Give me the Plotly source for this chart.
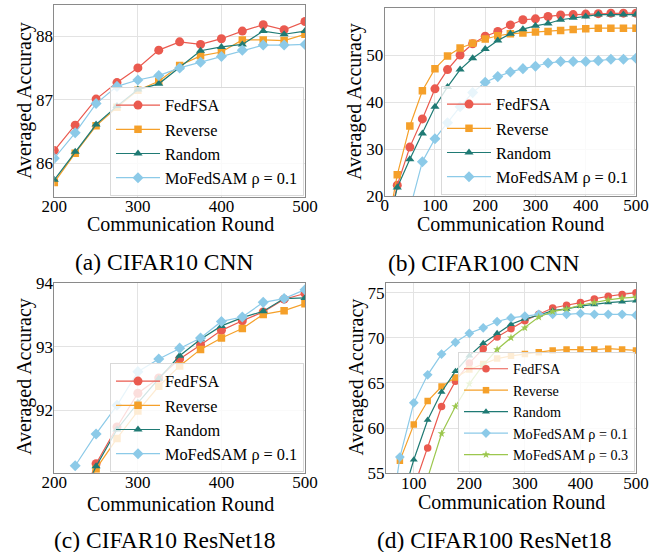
import plotly.graph_objects as go

FONT = "Liberation Serif"

# ---------------- data ----------------
# (a) CIFAR10 CNN
rounds_a = [200, 225, 250, 275, 300, 325, 350, 375, 400, 425, 450, 475, 500]
fedfsa_a = [86.20, 86.60, 87.01, 87.27, 87.50, 87.78, 87.91, 87.87, 87.96, 88.08, 88.18, 88.10, 88.23]
reverse_a = [85.70, 86.16, 86.59, 86.88, 87.15, 87.29, 87.54, 87.69, 87.75, 87.94, 87.94, 87.93, 88.03]
random_a = [85.74, 86.18, 86.61, 86.90, 87.16, 87.25, 87.51, 87.77, 87.83, 87.87, 88.08, 88.03, 88.08]
mofedsam_a = [86.08, 86.48, 86.94, 87.21, 87.31, 87.38, 87.50, 87.59, 87.68, 87.78, 87.86, 87.86, 87.87]

# (b) CIFAR100 CNN
rounds_b = [0, 25, 50, 75, 100, 125, 150, 175, 200, 225, 250, 275, 300, 325, 350, 375, 400, 425, 450, 475, 500]
fedfsa_b = [10.0, 22.3, 30.4, 36.4, 42.8, 46.9, 50.0, 52.4, 54.0, 55.0, 56.4, 57.5, 57.7, 58.2, 58.5, 58.6, 58.7, 58.8, 58.9, 58.9, 58.9]
reverse_b = [10.0, 24.5, 34.9, 42.4, 47.1, 49.8, 51.5, 52.5, 53.4, 54.1, 54.5, 54.7, 54.9, 55.0, 55.2, 55.4, 55.6, 55.7, 55.7, 55.7, 55.7]
random_b = [10.0, 21.8, 27.8, 33.3, 39.0, 43.2, 46.9, 49.3, 51.3, 53.1, 54.5, 55.5, 56.2, 56.7, 57.5, 57.9, 58.2, 58.6, 58.6, 58.6, 58.6]
rounds_b_mo = [50, 75, 100, 125, 150, 175, 200, 225, 250, 275, 300, 325, 350, 375, 400, 425, 450, 475, 500]
mofedsam_b = [17.2, 27.3, 32.2, 35.6, 39.0, 42.0, 44.2, 45.4, 46.4, 47.1, 47.6, 48.3, 48.6, 48.6, 48.6, 48.8, 49.1, 49.1, 49.3]

# (c) CIFAR10 ResNet18
rounds_c = [225, 250, 275, 300, 325, 350, 375, 400, 425, 450, 475, 500]
fedfsa_c = [90.40, 91.16, 91.74, 92.27, 92.51, 92.81, 93.03, 93.26, 93.41, 93.55, 93.75, 93.84]
reverse_c = [90.35, 91.08, 91.56, 91.99, 92.38, 92.70, 92.96, 93.14, 93.29, 93.51, 93.57, 93.68]
random_c = [90.40, 91.12, 91.70, 92.12, 92.50, 92.86, 93.12, 93.33, 93.46, 93.56, 93.76, 93.77]
mofedsam_c = [91.13, 91.63, 92.08, 92.61, 92.81, 92.98, 93.14, 93.40, 93.47, 93.70, 93.76, 93.90]

# (d) CIFAR100 ResNet18
rounds_d_fed = [100, 125, 150, 175, 200, 225, 250, 275, 300, 325, 350, 375, 400, 425, 450, 475, 500]
fedfsa_d = [53.4, 57.8, 62.4, 65.2, 67.2, 68.8, 70.1, 71.0, 71.9, 72.6, 73.3, 73.6, 73.9, 74.3, 74.6, 74.8, 75.0]
rounds_d_rev = [75, 100, 125, 150, 175, 200, 225, 250, 275, 300, 325, 350, 375, 400, 425, 450, 475, 500]
reverse_d = [56.4, 60.4, 63.0, 64.6, 65.6, 66.5, 67.1, 67.7, 68.0, 68.2, 68.4, 68.6, 68.7, 68.7, 68.7, 68.8, 68.7, 68.6]
rounds_d_rand = [75, 100, 125, 150, 175, 200, 225, 250, 275, 300, 325, 350, 375, 400, 425, 450, 475, 500]
random_d = [51.3, 56.5, 60.9, 64.0, 66.3, 68.0, 69.4, 70.5, 71.5, 72.1, 72.5, 73.0, 73.2, 73.5, 73.7, 73.9, 74.0, 74.1]
rounds_d_mo1 = [50, 75, 100, 125, 150, 175, 200, 225, 250, 275, 300, 325, 350, 375, 400, 425, 450, 475, 500]
mofedsam01_d = [46.0, 56.8, 62.8, 65.9, 68.2, 69.5, 70.5, 71.1, 71.8, 72.2, 72.4, 72.6, 72.6, 72.6, 72.7, 72.6, 72.6, 72.6, 72.5]
rounds_d_mo3 = [125, 150, 175, 200, 225, 250, 275, 300, 325, 350, 375, 400, 425, 450, 475, 500]
mofedsam03_d = [54.5, 59.4, 62.4, 64.9, 67.0, 68.7, 70.0, 71.1, 72.3, 72.9, 73.2, 73.6, 73.9, 74.2, 74.4, 74.5]

names = ["FedFSA", "Reverse", "Random", "MoFedSAM \u03c1 = 0.1", "MoFedSAM \u03c1 = 0.3"]
captions = ["(a) CIFAR10 CNN", "(b) CIFAR100 CNN", "(c) CIFAR10 ResNet18", "(d) CIFAR100 ResNet18"]
x_title = "Communication Round"
y_title = "Averaged Accuracy"

# ---------------- styles ----------------
COLORS = ["#EA5A4F", "#F5A02A", "#1F7A74", "#8CCAE8", "#9CC74E"]
SYMBOLS = ["circle", "square", "triangle-up", "diamond", "star"]
SIZES_BIG = [9, 7.5, 8, 8.5, 7]
SIZES_SMALL = [7.5, 6.5, 7, 7.5, 6]

W, H = 666, 552

def dom_x(a, b):
    return [a / W, b / W]

def dom_y(top, bottom):
    return [1 - bottom / H, 1 - top / H]

panels = [
    dict(series=[(rounds_a, fedfsa_a), (rounds_a, reverse_a), (rounds_a, random_a), (rounds_a, mofedsam_a)],
         xd=dom_x(54.3, 305), yd=dom_y(5, 197), xr=[200, 500], yr=[85.47, 88.49],
         xt=[200, 300, 400, 500], yt=[86, 87, 88], sizes=SIZES_BIG, lfont=16.3,
         leg=(304, 196)),
    dict(series=[(rounds_b, fedfsa_b), (rounds_b, reverse_b), (rounds_b, random_b), (rounds_b_mo, mofedsam_b)],
         xd=dom_x(384.7, 636), yd=dom_y(8, 196), xr=[0, 500], yr=[20, 60],
         xt=[0, 100, 200, 300, 400, 500], yt=[20, 30, 40, 50, 60], sizes=SIZES_BIG, lfont=16.3,
         leg=(635, 195)),
    dict(series=[(rounds_c, fedfsa_c), (rounds_c, reverse_c), (rounds_c, random_c), (rounds_c, mofedsam_c)],
         xd=dom_x(54.3, 305), yd=dom_y(283.3, 472.7), xr=[200, 500], yr=[91.02, 94.0],
         xt=[200, 300, 400, 500], yt=[92, 93, 94], sizes=SIZES_BIG, lfont=16.3,
         leg=(304, 472)),
    dict(series=[(rounds_d_fed, fedfsa_d), (rounds_d_rev, reverse_d), (rounds_d_rand, random_d),
                 (rounds_d_mo1, mofedsam01_d), (rounds_d_mo3, mofedsam03_d)],
         xd=dom_x(386, 636), yd=dom_y(282.7, 473.3), xr=[50, 500], yr=[55, 76.1],
         xt=[100, 200, 300, 400, 500], yt=[55, 60, 65, 70, 75], sizes=SIZES_SMALL, lfont=14.2,
         leg=(635, 472)),
]

fig = go.Figure()
layout = dict(width=W, height=H, autosize=False,
              margin=dict(l=0, r=0, t=0, b=0),
              paper_bgcolor="white", plot_bgcolor="white",
              font=dict(family=FONT, color="black"),
              showlegend=True, annotations=[])

for i, p in enumerate(panels):
    k = "" if i == 0 else str(i + 1)
    xa, ya = "x" + k, "y" + k
    lg = "legend" + k
    for j, (xs, ys) in enumerate(p["series"]):
        fig.add_trace(go.Scatter(
            x=xs, y=ys, mode="lines+markers", name=names[j],
            xaxis=xa, yaxis=ya, legend=lg,
            line=dict(color=COLORS[j], width=1.2),
            marker=dict(color=COLORS[j], symbol=SYMBOLS[j], size=p["sizes"][j],
                        line=dict(width=0)),
        ))
    axis_common = dict(showgrid=True, gridcolor="#e3e3e3", gridwidth=1,
                       showline=True, mirror=True, linecolor="#8a8a8a", linewidth=1,
                       ticks="", zeroline=False, automargin=False,
                       tickfont=dict(family=FONT, size=17, color="black"))
    layout["xaxis" + k] = dict(domain=p["xd"], range=p["xr"], tickvals=p["xt"],
                               anchor=ya, ticklabelstandoff=-6, **axis_common)
    layout["yaxis" + k] = dict(domain=p["yd"], range=p["yr"], tickvals=p["yt"],
                               anchor=xa, ticklabelstandoff=-3, **axis_common)
    lx, ly = p["leg"]
    layout[lg] = dict(x=lx / W, y=1 - ly / H, xanchor="right", yanchor="bottom",
                      xref="paper", yref="paper", itemwidth=44,
                      bgcolor="rgba(255,255,255,0.8)", bordercolor="#d9d9d9", borderwidth=1,
                      font=dict(family=FONT, size=p["lfont"], color="black"),
                      traceorder="normal")

# axis titles and captions
xt_pos = [(180.7, 224), (510.7, 224), (180.7, 503.5), (511, 502)]
yt_pos = [(24, 101), (355, 102), (24, 377), (355.5, 377)]
cap_pos = [(164, 262), (484, 263), (164, 540), (494, 539.5)]
for i in range(4):
    layout["annotations"].append(dict(
        text=x_title, x=xt_pos[i][0] / W, y=1 - xt_pos[i][1] / H, xref="paper", yref="paper",
        showarrow=False, xanchor="center", yanchor="middle",
        font=dict(family=FONT, size=20, color="black")))
    layout["annotations"].append(dict(
        text=y_title, x=yt_pos[i][0] / W, y=1 - yt_pos[i][1] / H, xref="paper", yref="paper",
        showarrow=False, xanchor="center", yanchor="middle", textangle=-90,
        font=dict(family=FONT, size=20, color="black")))
    layout["annotations"].append(dict(
        text=captions[i], x=cap_pos[i][0] / W, y=1 - cap_pos[i][1] / H, xref="paper", yref="paper",
        showarrow=False, xanchor="center", yanchor="middle",
        font=dict(family=FONT, size=23.5, color="black")))

fig.update_layout(**layout)
fig.write_html("out.html", config={"displayModeBar": False},
               post_script="document.body.style.margin='0px';")
